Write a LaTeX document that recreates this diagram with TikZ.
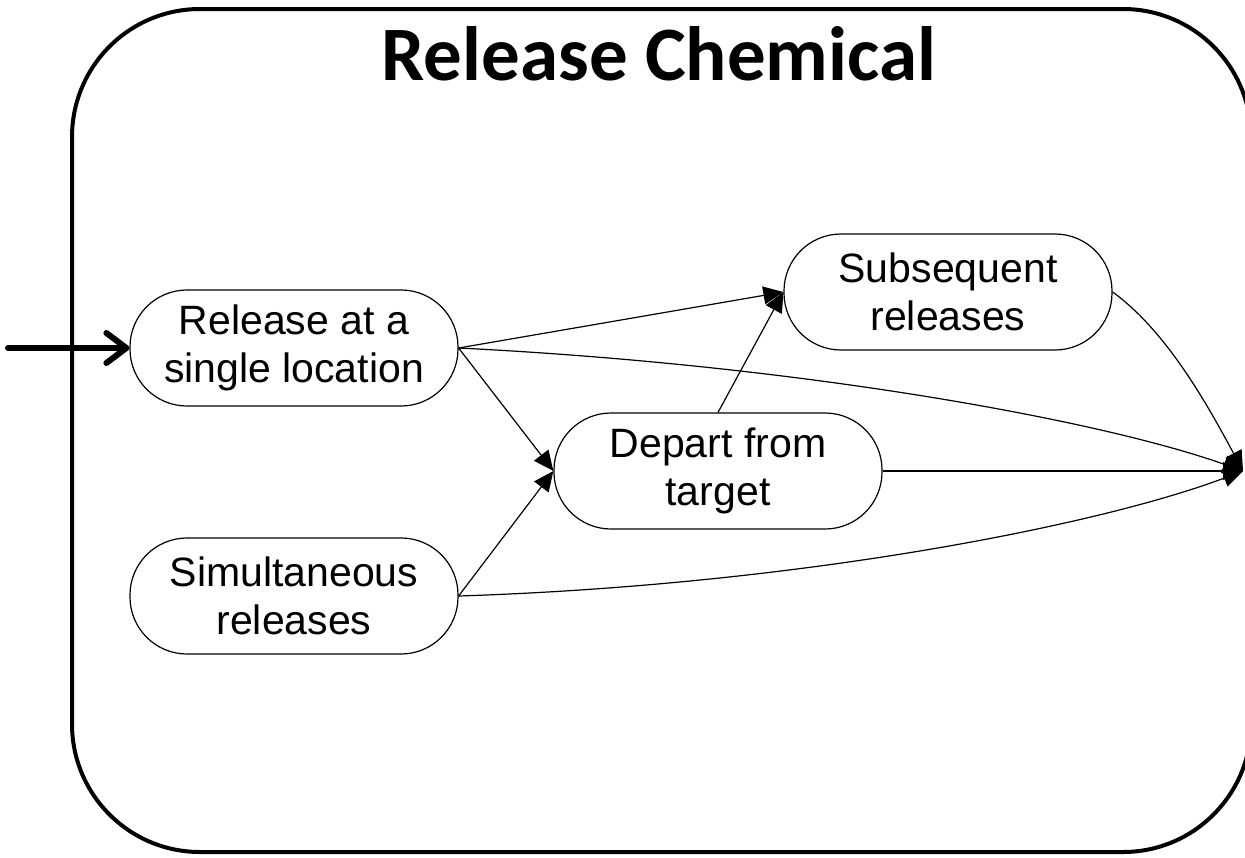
\documentclass[tikz,border=0pt]{standalone}
\usepackage{fontspec}
\setmainfont{Liberation Sans}
\newfontfamily\titlefont{Carlito}
\usetikzlibrary{arrows.meta}
\begin{document}
\begin{tikzpicture}[x=1pt,y=-1pt,
  proc/.style={draw, line width=1.2pt, rounded corners=57pt, minimum width=328pt,
    minimum height=116pt, align=center, inner sep=0pt,
    font=\fontsize{41}{48}\selectfont},
  flow/.style={line width=1.2pt, -{Triangle[length=20pt,width=18pt]}},
  frame/.style={line width=4pt, rounded corners=128pt},
  inflow/.style={line width=6pt, line cap=round,
    -{Straight Barb[length=20pt,width=30pt,line cap=round,line join=round]}},
  titlestyle/.style={font=\titlefont\bfseries\fontsize{77}{90}\selectfont, anchor=base}]
\useasboundingbox (0,0) rectangle (1245,857);
\clip (0,0) rectangle (1245,857);
\fill[white] (0,0) rectangle (1245,857);
% container
\draw[frame] (72,9) rectangle (1251,852);
\node[titlestyle] (title) at (659,80) {Release Chemical};
% activities
\node[proc] (rel) at (294,348) {Release at a\\single location};
\node[proc] (sub) at (948,292) {Subsequent\\releases};
\node[proc] (dep) at (718,471) {Depart from\\target};
\node[proc] (sim) at (294,596) {Simultaneous\\releases};
\coordinate (sink) at (1243,471);
\coordinate (src) at (8,348);
% connectors
\draw[inflow] (src) -- (rel.west);
\draw[flow] (rel.east) -- (sub.west);
\draw[flow] (rel.east) -- (dep.west);
\draw[flow] (sim.east) -- (dep.west);
\draw[flow] (dep.north) -- (sub.west);
\draw[flow] (dep.east) -- (sink);
\draw[flow] (rel.east) .. controls (800,365) and (1100,420) .. (sink);
\draw[flow] (sim.east) .. controls (800,585) and (1100,525) .. (sink);
\draw[flow] (sub.east) .. controls (1165,330) and (1205,400) .. (sink);
\end{tikzpicture}
\end{document}
